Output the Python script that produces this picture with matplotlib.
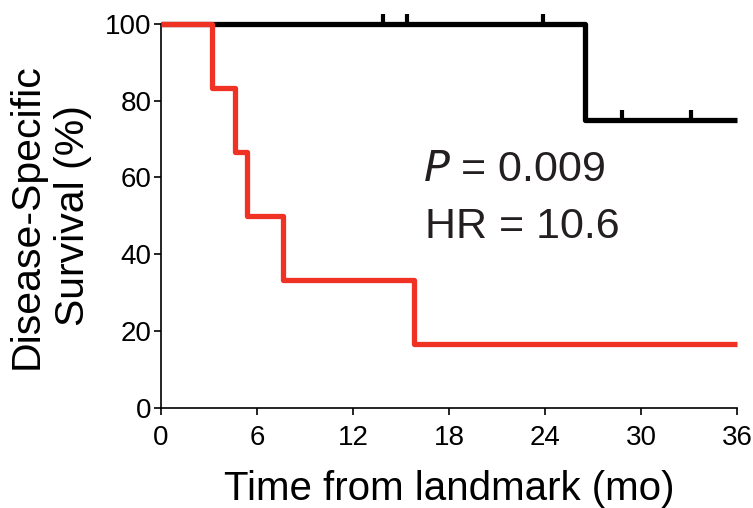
import numpy as np
import matplotlib.pyplot as plt

plt.rcParams['font.family'] = ['Liberation Sans', 'DejaVu Sans']

# Kaplan-Meier steps (months, % surviving)
red_times = [0, 3.2, 4.6, 5.4, 7.6, 15.8, 36]
red_surv = [100, 83.3, 66.7, 50.0, 33.3, 16.7, 16.7]

black_times = [0, 26.5, 36]
black_surv = [100, 75, 75]
black_censor_t = [13.9, 15.4, 23.9, 28.8, 33.1]
black_censor_s = [100, 100, 100, 75, 75]

xticks = [0, 6, 12, 18, 24, 30, 36]
yticks = [0, 20, 40, 60, 80, 100]

fig = plt.figure(figsize=(7.53, 5.08), dpi=100)
ax = fig.add_axes([0.2138, 0.197, 0.765, 0.756])

ax.step(black_times, black_surv, where='post', color='black', lw=3.8,
        solid_capstyle='butt', clip_on=False, zorder=3)
ax.plot(black_censor_t, black_censor_s, ls='none', marker=2, ms=7,
        mew=3, color='black', clip_on=False, zorder=3)
ax.step(red_times, red_surv, where='post', color='#f03224', lw=3.8,
        solid_capstyle='butt', clip_on=False, zorder=4)

ax.text(16.4, 62, r'$\it{P}$ = 0.009', fontsize=31, ha='left', va='center',
        color='#231f20')
ax.text(16.5, 47, 'HR = 10.6', fontsize=31, ha='left', va='center',
        color='#231f20')

ax.set_xlim(0, 36)
ax.set_ylim(0, 100)
ax.set_xticks(xticks)
ax.set_yticks(yticks)
ax.tick_params(width=1.2, length=5, direction='out', pad=2)
ax.tick_params(axis='x', pad=7)
for lab in ax.get_xticklabels() + ax.get_yticklabels():
    lab.set_fontsize(20)
for s in ['top', 'right']:
    ax.spines[s].set_visible(False)
for s in ['left', 'bottom']:
    ax.spines[s].set_linewidth(1.2)

ax.set_xlabel('Time from landmark (mo)', fontsize=29, labelpad=14)
ax.set_ylabel('Disease-Specific\nSurvival (%)', fontsize=29.5, labelpad=9,
              linespacing=1.3)

plt.savefig('out.png', dpi=100)
